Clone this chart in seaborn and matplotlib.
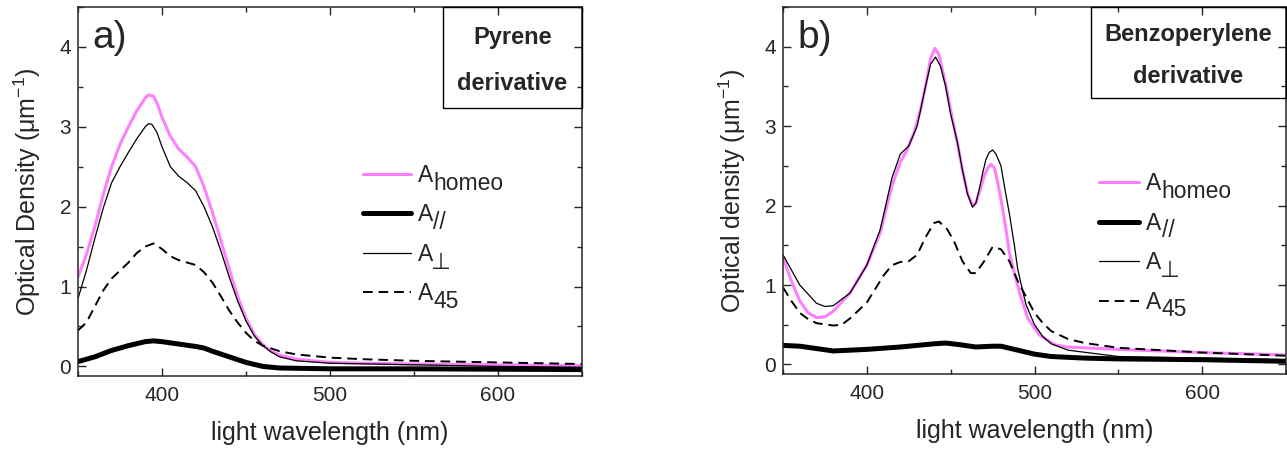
import matplotlib
matplotlib.use("Agg")
import matplotlib.pyplot as plt
from matplotlib.patches import Rectangle
from matplotlib.ticker import MultipleLocator
import seaborn as sns

# ---- data (wavelength nm, optical density) ----
# panel a) pyrene derivative
pyr_homeo_x = [350, 355, 360, 365, 370, 375, 380, 385, 390, 392, 395, 397, 400, 405, 410, 415, 420, 425,
               430, 435, 440, 445, 450, 455, 460, 465, 470, 480, 490, 500, 520, 550, 600, 650]
pyr_homeo_y = [1.12, 1.40, 1.75, 2.15, 2.50, 2.78, 3.00, 3.20, 3.36, 3.40, 3.38, 3.30, 3.12, 2.88, 2.72, 2.62, 2.50, 2.25,
               1.93, 1.58, 1.22, 0.88, 0.60, 0.40, 0.27, 0.19, 0.14, 0.09, 0.07, 0.05, 0.04, 0.03, 0.02, 0.01]

pyr_perp_x = [350, 355, 360, 365, 370, 375, 380, 385, 390, 392, 394, 397, 400, 405, 410, 415, 420, 425,
              430, 435, 440, 445, 450, 455, 460, 465, 470, 480, 500, 550, 600, 650]
pyr_perp_y = [0.85, 1.20, 1.60, 1.98, 2.30, 2.50, 2.68, 2.85, 3.00, 3.04, 3.03, 2.93, 2.75, 2.50, 2.38, 2.30, 2.20, 2.00,
              1.75, 1.45, 1.12, 0.82, 0.57, 0.38, 0.26, 0.18, 0.12, 0.07, 0.04, 0.02, 0.00, -0.01]

pyr_45_x = [350, 355, 360, 365, 370, 375, 380, 385, 390, 395, 400, 405, 410, 415, 420, 425,
            430, 435, 440, 445, 450, 455, 460, 470, 480, 500, 520, 550, 600, 650]
pyr_45_y = [0.45, 0.55, 0.75, 0.95, 1.10, 1.20, 1.30, 1.42, 1.50, 1.54, 1.47, 1.38, 1.33, 1.30, 1.27, 1.18,
            1.05, 0.88, 0.70, 0.55, 0.42, 0.32, 0.26, 0.19, 0.15, 0.11, 0.09, 0.07, 0.05, 0.03]

pyr_par_x = [350, 360, 370, 380, 390, 395, 400, 410, 420, 425, 430, 440, 450, 460, 470, 500, 550, 650]
pyr_par_y = [0.06, 0.12, 0.20, 0.26, 0.31, 0.32, 0.31, 0.28, 0.25, 0.23, 0.19, 0.12, 0.05, 0.00, -0.02, -0.03, -0.03, -0.04]

# panel b) benzoperylene derivative
bzp_homeo_x = [350, 355, 360, 365, 370, 375, 380, 390, 400, 408, 415, 420, 424, 428, 432, 435, 438, 440.5, 443, 447,
               450, 454, 457, 460, 463, 465, 467, 470, 472, 474, 476, 478, 480, 483, 485, 488, 491, 496, 503,
               512, 519, 550, 600, 650]
bzp_homeo_y = [1.35, 1.05, 0.80, 0.65, 0.59, 0.60, 0.67, 0.90, 1.25, 1.66, 2.25, 2.55, 2.70, 2.91, 3.20, 3.50, 3.85, 3.98, 3.90, 3.53,
               3.20, 2.79, 2.45, 2.16, 2.00, 2.03, 2.16, 2.37, 2.47, 2.52, 2.48, 2.30, 2.08, 1.70, 1.41, 1.15, 0.91, 0.58, 0.37,
               0.25, 0.22, 0.19, 0.15, 0.12]

bzp_perp_x = [350, 360, 370, 375, 380, 390, 400, 408, 415, 420, 425, 430, 435, 438, 441, 444, 447, 450, 454, 457,
              460, 463, 465, 467, 469, 471, 473, 475, 477, 480, 482, 485, 488, 490, 493, 495, 500, 505, 510,
              520, 550, 600, 650]
bzp_perp_y = [1.38, 1.00, 0.77, 0.73, 0.74, 0.90, 1.25, 1.70, 2.35, 2.65, 2.75, 3.00, 3.50, 3.78, 3.87, 3.75, 3.50, 3.15, 2.80, 2.45,
              2.15, 1.98, 2.03, 2.20, 2.40, 2.58, 2.67, 2.70, 2.65, 2.50, 2.25, 1.90, 1.50, 1.20, 0.92, 0.75, 0.50, 0.35, 0.26,
              0.18, 0.10, 0.08, 0.06]

bzp_45_x = [350, 355, 360, 365, 370, 380, 385, 390, 400, 405, 410, 415, 420, 425, 430, 435, 440, 443, 448,
            452, 457, 462, 465, 470, 475, 480, 485, 490, 495, 500, 505, 510, 520, 530, 550, 600, 650]
bzp_45_y = [0.97, 0.80, 0.65, 0.57, 0.52, 0.49, 0.50, 0.58, 0.78, 0.95, 1.12, 1.25, 1.29, 1.30, 1.38, 1.60, 1.78, 1.80, 1.70,
            1.55, 1.30, 1.15, 1.15, 1.30, 1.48, 1.45, 1.30, 1.05, 0.85, 0.65, 0.52, 0.42, 0.32, 0.27, 0.21, 0.15, 0.11]

bzp_par_x = [350, 360, 370, 380, 390, 400, 420, 440, 447, 455, 465, 475, 480, 490, 500, 510, 530, 550, 600, 650]
bzp_par_y = [0.24, 0.23, 0.20, 0.17, 0.18, 0.19, 0.22, 0.26, 0.27, 0.25, 0.22, 0.23, 0.23, 0.18, 0.13, 0.10, 0.08, 0.07, 0.06, 0.04]

subscripts = ["homeo", "//", "\u22a5", "45"]
pink = "#ff7fff"

sns.set_style("ticks")
plt.rcParams["font.family"] = ["Liberation Sans", "DejaVu Sans"]
plt.rcParams["mathtext.fontset"] = "custom"
plt.rcParams["mathtext.rm"] = "Liberation Sans"
plt.rcParams["mathtext.it"] = "Liberation Sans:italic"

W, H = 1287, 449
fig = plt.figure(figsize=(W / 100, H / 100), dpi=100)


def px_axes(x0, x1, ytop, ybot):
    return fig.add_axes([x0 / W, (H - ybot) / H, (x1 - x0) / W, (ybot - ytop) / H])


def draw_panel(ax, series, ylabel, tag, box_names, box_x0, box_y0):
    (hx, hy), (px_, py_), (ex, ey), (qx, qy) = series
    sns.lineplot(x=hx, y=hy, ax=ax, color=pink, lw=2.2, label="A")
    sns.lineplot(x=px_, y=py_, ax=ax, color="black", lw=3.6, label="A")
    sns.lineplot(x=ex, y=ey, ax=ax, color="black", lw=0.9, label="A")
    sns.lineplot(x=qx, y=qy, ax=ax, color="black", lw=1.4, ls=(0, (5, 3)), label="A")

    ax.set_xlim(350, 650)
    ax.set_ylim(-0.12, 4.5)
    ax.xaxis.set_major_locator(MultipleLocator(100))
    ax.xaxis.set_minor_locator(MultipleLocator(50))
    ax.yaxis.set_major_locator(MultipleLocator(1))
    ax.yaxis.set_minor_locator(MultipleLocator(0.5))
    ax.tick_params(which="both", direction="in", top=True, right=True, width=1, labelsize=15)
    ax.tick_params(which="major", length=6)
    ax.tick_params(which="minor", length=3.5)
    ax.tick_params(axis="x", pad=7)
    ax.tick_params(axis="y", pad=5)
    for s in ax.spines.values():
        s.set_linewidth(1.1)

    ax.set_xlabel("light wavelength (nm)", fontsize=18, labelpad=12)
    ax.set_ylabel(ylabel, fontsize=18, labelpad=12)

    ax.text(0.028, 0.915, tag, transform=ax.transAxes, fontsize=28, va="center", ha="left")

    ax.add_patch(Rectangle((box_x0, box_y0), 1 - box_x0, 1 - box_y0, transform=ax.transAxes,
                           fill=False, edgecolor="black", lw=1.0, clip_on=False, zorder=5))
    cx = box_x0 + (1 - box_x0) / 2
    ax.text(cx, box_y0 + (1 - box_y0) * 0.70, box_names[0], transform=ax.transAxes,
            fontsize=17, fontweight="bold", ha="center", va="center")
    ax.text(cx, box_y0 + (1 - box_y0) * 0.24, box_names[1], transform=ax.transAxes,
            fontsize=17, fontweight="bold", ha="center", va="center")


def add_legend(ax, anchor, hlen):
    leg = ax.legend(loc="upper left", bbox_to_anchor=anchor, frameon=False, fontsize=16.5,
                    handlelength=hlen, handletextpad=0.3, labelspacing=0.72, borderpad=0, borderaxespad=0)
    # subscripts at full size, lowered below the baseline of "A"
    for txt, sub in zip(leg.get_texts(), subscripts):
        dx = -1.8 if sub == "\u22a5" else 0.3
        ax.annotate(sub, xy=(1, 0), xycoords=txt, xytext=(dx, -2.0), textcoords="offset points",
                    fontsize=16.5, ha="left", va="baseline", zorder=10, annotation_clip=False)


ax1 = px_axes(78, 582, 7, 376)
draw_panel(ax1,
           [(pyr_homeo_x, pyr_homeo_y), (pyr_par_x, pyr_par_y), (pyr_perp_x, pyr_perp_y), (pyr_45_x, pyr_45_y)],
           r"Optical Density ($\mathregular{\mu m^{-1}}$)", "a)", ["Pyrene", "derivative"], 0.724, 0.726)
add_legend(ax1, (0.565, 0.575), 2.1)

ax2 = px_axes(783, 1286, 7, 374)
draw_panel(ax2,
           [(bzp_homeo_x, bzp_homeo_y), (bzp_par_x, bzp_par_y), (bzp_perp_x, bzp_perp_y), (bzp_45_x, bzp_45_y)],
           r"Optical density ($\mathregular{\mu m^{-1}}$)", "b)", ["Benzoperylene", "derivative"], 0.612, 0.752)
add_legend(ax2, (0.628, 0.55), 1.75)

fig.canvas.draw()
fig.savefig("out.png", dpi=100)
